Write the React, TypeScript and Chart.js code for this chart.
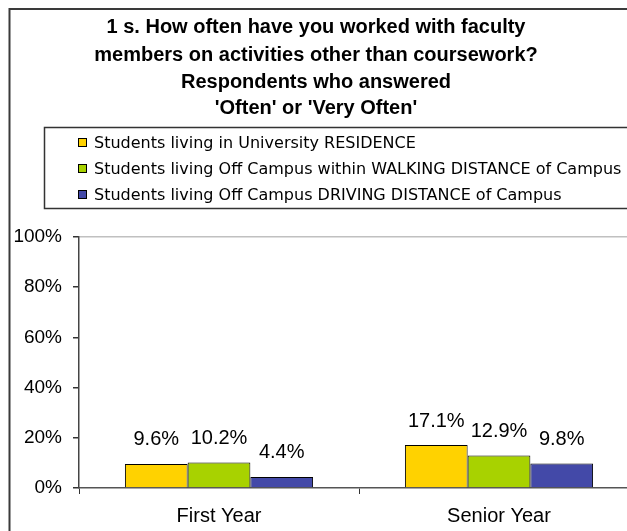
import React, { useEffect, useRef } from "react";
import { Chart, registerables } from "chart.js";

Chart.register(...registerables);

const titleLines = [
  "1 s. How often have you worked with faculty",
  "members on activities other than coursework?",
  "Respondents who answered",
  "'Often' or 'Very Often'",
];
const categories = ["First Year", "Senior Year"];
const seriesNames = [
  "Students living in University RESIDENCE",
  "Students living Off Campus within WALKING DISTANCE of Campus",
  "Students living Off Campus DRIVING DISTANCE of Campus",
];
const residence = [9.6, 17.1];
const walking = [10.2, 12.9];
const driving = [4.4, 9.8];
const seriesColors = ["#FFD200", "#A8D200", "#4349A8"];
const yTicks = [0, 20, 40, 60, 80, 100];

const CANVAS_W = 680;
const CANVAS_H = 560;

const frameTitleLegend = {
  id: "frameTitleLegend",
  afterDraw(chart: any) {
    const ctx = chart.ctx;
    ctx.save();
    // outer frame
    ctx.strokeStyle = "#3a3a3a";
    ctx.lineWidth = 2;
    ctx.strokeRect(1.5, 1, chart.width + 10, chart.height + 10);
    // title
    ctx.fillStyle = "#000";
    ctx.font = "bold 20px 'Liberation Sans', Arial, sans-serif";
    ctx.textAlign = "center";
    ctx.textBaseline = "middle";
    const titleY = [19.5, 47, 74, 100.5];
    titleLines.forEach((t, i) => ctx.fillText(t, 308, titleY[i]));
    // legend box
    ctx.strokeStyle = "#333";
    ctx.lineWidth = 1.5;
    ctx.strokeRect(36.5, 119.5, chart.width, 81);
    ctx.font = "16px 'DejaVu Sans', Verdana, sans-serif";
    ctx.textAlign = "left";
    const rowY = [136, 162, 188];
    chart.data.datasets.forEach((ds: any, i: number) => {
      const y = rowY[i];
      ctx.fillStyle = ds.backgroundColor;
      ctx.fillRect(70, y - 6, 9, 9);
      ctx.strokeStyle = "#000";
      ctx.lineWidth = 1;
      ctx.strokeRect(70.5, y - 5.5, 8, 8);
      ctx.fillStyle = "#000";
      ctx.fillText(ds.label, 86, y);
    });
    // data labels
    ctx.font = "20px 'Liberation Sans', Arial, sans-serif";
    ctx.textAlign = "center";
    ctx.textBaseline = "middle";
    ctx.fillStyle = "#000";
    chart.data.datasets.forEach((ds: any, i: number) => {
      const meta = chart.getDatasetMeta(i);
      meta.data.forEach((bar: any, j: number) => {
        ctx.fillText(ds.data[j].toFixed(1) + "%", bar.x, bar.y - 24);
      });
    });
    ctx.restore();
  },
};

export default function App() {
  const ref = useRef<HTMLCanvasElement | null>(null);
  useEffect(() => {
    if (!ref.current) return;
    const values = [residence, walking, driving];
    const chart = new Chart(ref.current, {
      type: "bar",
      data: {
        labels: categories,
        datasets: seriesNames.map((name, i) => ({
          label: name,
          data: values[i],
          backgroundColor: seriesColors[i],
          borderColor: "#000",
          borderWidth: 1,
          barPercentage: 1,
          categoryPercentage: 0.672,
        })),
      },
      options: {
        animation: false,
        responsive: false,
        maintainAspectRatio: false,
        devicePixelRatio: 1,
        layout: { padding: { top: 229, right: 49, left: 0, bottom: 20 } },
        plugins: {
          legend: { display: false },
          title: { display: false },
          tooltip: { enabled: false },
        },
        scales: {
          x: {
            afterFit: (s: any) => {
              s.height = 60;
            },
            grid: {
              drawOnChartArea: false,
              drawTicks: true,
              tickLength: 6,
              color: "#333",
              offset: true,
            },
            border: { color: "#555", width: 1.5 },
            ticks: {
              color: "#000",
              padding: 10,
              font: { family: "'Liberation Sans', Arial, sans-serif", size: 20 },
            },
          },
          y: {
            min: 0,
            max: 100,
            afterFit: (s: any) => {
              s.width = 71;
            },
            afterBuildTicks: (s: any) => {
              s.ticks = yTicks.map((v) => ({ value: v }));
            },
            grid: {
              color: (c: any) => (c.tick && c.tick.value === 100 ? "#c0c0c0" : "rgba(0,0,0,0)"),
              tickColor: "#333",
              tickLength: 6,
              lineWidth: 1.5,
            },
            border: { color: "#444", width: 1.5 },
            ticks: {
              color: "#000",
              padding: 11,
              callback: (v: any) => v + "%",
              font: { family: "'Liberation Sans', Arial, sans-serif", size: 19 },
            },
          },
        },
      },
      plugins: [frameTitleLegend],
    });
    return () => chart.destroy();
  }, []);
  return (
    <div
      style={{
        position: "fixed",
        left: 8,
        top: 8,
        width: 619,
        height: 523,
        overflow: "hidden",
        background: "#fff",
      }}
    >
      <canvas ref={ref} width={CANVAS_W} height={CANVAS_H} style={{ display: "block" }} />
    </div>
  );
}
